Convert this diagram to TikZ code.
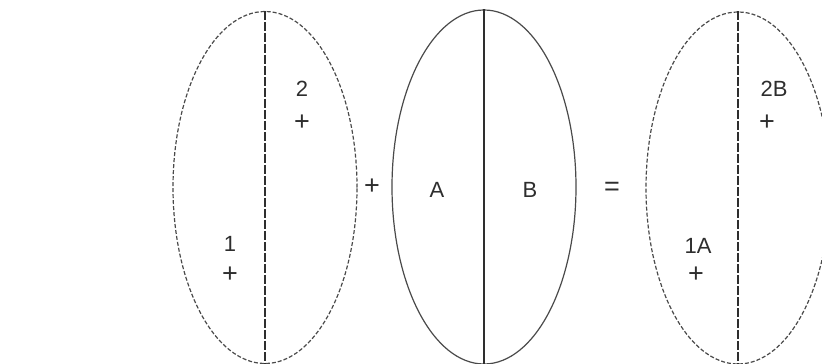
\documentclass[tikz,border=0pt]{standalone}
\usepackage{fontspec}
\setmainfont{Liberation Sans}
\usepackage{xcolor}
\usepackage{tikz}
\usetikzlibrary{shapes.geometric, positioning}
\definecolor{LineGray}{HTML}{4A4A4A}
\definecolor{InkGray}{HTML}{2E2E2E}

\begin{document}
\begin{tikzpicture}[x=1pt, y=-1pt,
  dashed_oval/.style={ellipse, draw=LineGray, line width=1.2pt,
    dash pattern=on 4pt off 2pt, minimum width=184pt, minimum height=352pt, inner sep=0pt},
  solid_oval/.style={ellipse, draw=LineGray, line width=1.2pt,
    minimum width=184pt, minimum height=354pt, inner sep=0pt},
  divider/.style={InkGray, line width=1.4pt, dash pattern=on 9pt off 2pt},
  label_style/.style={font=\fontsize{22}{24}\selectfont, text=InkGray, inner sep=0pt},
  sign_style/.style={font=\fontsize{27}{27}\selectfont, text=InkGray, inner sep=0pt}
]
  \useasboundingbox (0,0) rectangle (822,364);

  % the three ovals
  \node[dashed_oval] (first) at (265,187.5) {};
  \node[solid_oval] (second) at (484,187) {};
  \node[dashed_oval] (result) at (738,188) {};

  \draw[divider] (first.north) -- (first.south);
  \draw[InkGray, line width=1.2pt] (second.north) -- (second.south);
  \draw[divider] (result.north) -- (result.south);

  % first oval
  \node[label_style] (two) at (302,89) {2};
  \node[sign_style] (twocross) at (302,123) {+};
  \node[label_style] (one) at (230,244) {1};
  \node[sign_style] (onecross) at (230,275) {+};

  \node[sign_style] (plus) at (372,187) {+};

  % second oval
  \node[label_style] (partA) at (437,190) {A};
  \node[label_style] (partB) at (530,190) {B};

  \node[sign_style] (equals) at (612,189) {=};

  % result oval
  \node[label_style] (twoB) at (774,89) {2B};
  \node[sign_style] (twoBcross) at (767,123) {+};
  \node[label_style] (oneA) at (698,246) {1A};
  \node[sign_style] (oneAcross) at (696,275) {+};

\end{tikzpicture}
\end{document}
